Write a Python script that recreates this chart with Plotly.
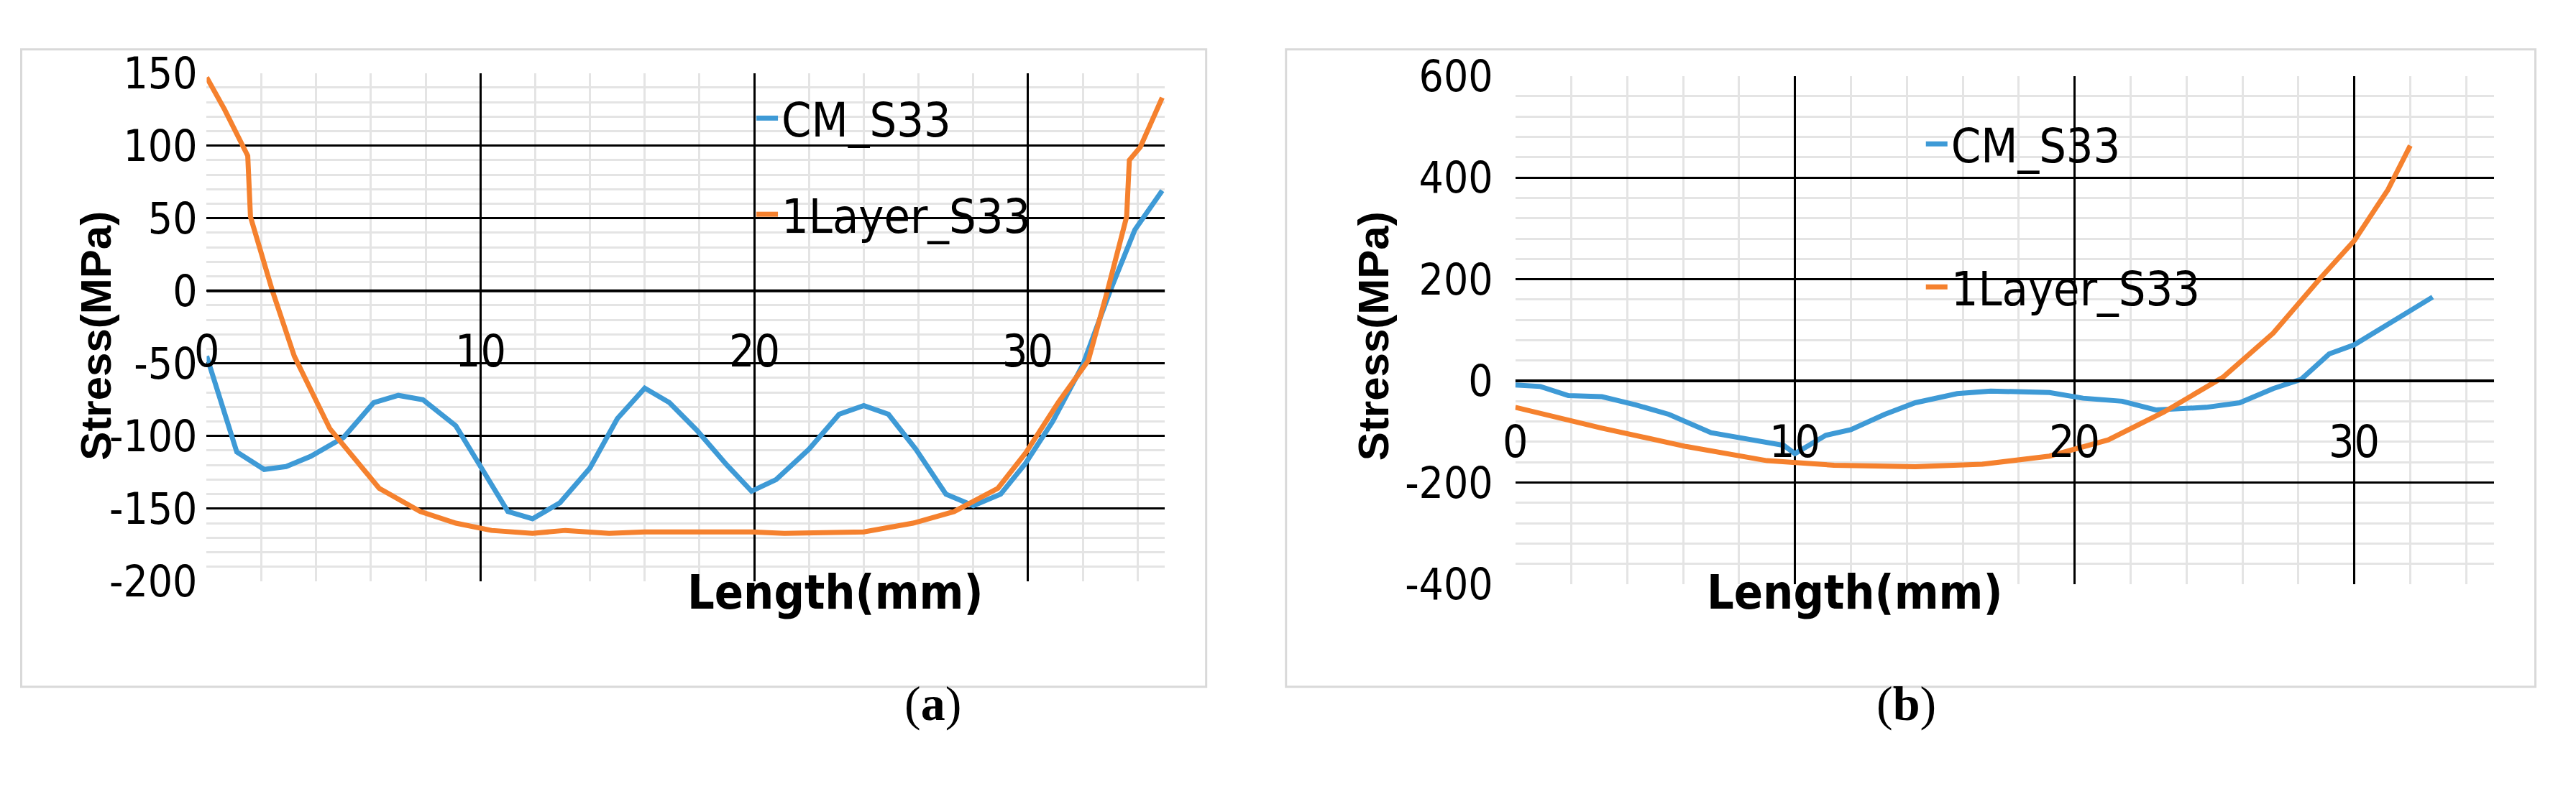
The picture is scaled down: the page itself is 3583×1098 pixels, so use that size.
import plotly.graph_objects as go

# (a) data
a_cm_x = [0, 1.1, 2.1, 2.9, 3.8, 5, 6.1, 7, 7.9, 9.1, 10.1, 11, 11.9, 12.9, 14, 15, 16, 16.9, 17.9, 19, 19.9,
          20.8, 22, 23.1, 24, 24.9, 25.9, 27, 28, 29, 29.9, 30.9, 32, 33, 33.9, 34.9]
a_cm_y = [-45, -111, -123, -121, -114, -101, -77, -72, -75, -93, -124, -152, -157, -146, -122, -88, -67, -77, -96,
          -120, -138, -130, -109, -85, -79, -85, -109, -140, -148, -140, -119, -90, -51, 0, 42, 69]
a_l1_x = [0, 0.65, 1.5, 1.6, 2.4, 3.2, 4.5, 6.3, 7.8, 9.1, 10.4, 11.9, 13.1, 14.7, 16, 17.8, 19.9, 21.1, 24,
          25.8, 27.3, 28.9, 29.9, 31.1, 32.2, 32.9, 33.6, 33.7, 34.1, 34.9]
a_l1_y = [147, 125, 93, 51, 0, -45, -95, -136, -152, -160, -165, -167, -165, -167, -166, -166, -166, -167, -166,
          -160, -152, -136, -112, -77, -48, 0, 51, 90, 99, 133]
a_yticks = [150, 100, 50, 0, -50, -100, -150, -200]

# (b) data
b_cm_x = [0, 0.9, 1.9, 3.1, 4.3, 5.5, 7, 8.4, 9.6, 10, 11.1, 12, 13.2, 14.3, 15.8, 17, 19.1, 20.3, 21.7, 22.9,
          24.7, 25.9, 27.1, 28.1, 29.1, 30, 31.2, 32.8]
b_cm_y = [-8, -11, -29, -31, -47, -66, -102, -116, -127, -143, -107, -96, -66, -43, -25, -20, -23, -34, -40, -57,
          -52, -43, -15, 3, 53, 71, 112, 165]
b_l1_x = [0, 3.1, 6.1, 9, 11.4, 14.3, 16.7, 19.1, 21.2, 23.2, 25.3, 27.1, 28.8, 30, 31.2, 32]
b_l1_y = [-52, -93, -129, -157, -166, -169, -164, -148, -116, -61, 7, 94, 203, 276, 376, 463]
b_yticks = [600, 400, 200, 0, -200, -400]

x_ticks = [0, 10, 20, 30]

BLUE = '#3e9ad6'
ORANGE = '#f5812e'
FONT = 'DejaVu Sans Condensed, Liberation Sans Narrow, Liberation Sans'

fig = go.Figure()
fig.add_trace(go.Scatter(x=a_cm_x, y=a_cm_y, name='CM_S33', mode='lines', line=dict(color=BLUE, width=7),
                         xaxis='x', yaxis='y', legend='legend', legendgroup='a1'))
fig.add_trace(go.Scatter(x=a_l1_x, y=a_l1_y, name='1Layer_S33', mode='lines', line=dict(color=ORANGE, width=7),
                         xaxis='x', yaxis='y', legend='legend', legendgroup='a2'))
fig.add_trace(go.Scatter(x=b_cm_x, y=b_cm_y, name='CM_S33', mode='lines', line=dict(color=BLUE, width=7),
                         xaxis='x2', yaxis='y2', legend='legend2', legendgroup='b1'))
fig.add_trace(go.Scatter(x=b_l1_x, y=b_l1_y, name='1Layer_S33', mode='lines', line=dict(color=ORANGE, width=7),
                         xaxis='x2', yaxis='y2', legend='legend2', legendgroup='b2'))

grid = dict(showgrid=True, gridcolor='black', gridwidth=3, showline=False, zeroline=False, ticks='',
            tickfont=dict(family=FONT, size=60, color='black'))
minor = dict(showgrid=True, gridcolor='#e4e4e4', gridwidth=3)

fig.update_layout(
    width=3583, height=1098, margin=dict(l=0, r=0, t=0, b=0),
    paper_bgcolor='white', plot_bgcolor='white', showlegend=True,
    xaxis=dict(domain=[0.078, 0.450], range=[0, 35], dtick=10, showticklabels=False,
               minor=dict(dtick=2, **minor), **grid),
    yaxis=dict(domain=[0.255, 0.943], range=[-200, 150], tickvals=a_yticks,
               ticktext=[str(v) for v in a_yticks], minor=dict(dtick=10, **minor),
               ticklabelstandoff=12, **grid),
    xaxis2=dict(domain=[0.586, 0.966], range=[0, 35], dtick=10, showticklabels=False, anchor='y2',
                minor=dict(dtick=2, **minor), **grid),
    yaxis2=dict(domain=[0.251, 0.939], range=[-400, 600], tickvals=b_yticks,
                ticktext=[str(v) for v in b_yticks], anchor='x2', minor=dict(dtick=40, **minor),
                ticklabelstandoff=30, **grid),
    legend=dict(x=0.29, y=0.93, yanchor='top', traceorder='grouped', tracegroupgap=45, bgcolor='rgba(0,0,0,0)',
                font=dict(family=FONT, size=66, color='black'), itemwidth=30),
    legend2=dict(x=0.744, y=0.895, yanchor='top', traceorder='grouped', tracegroupgap=110, bgcolor='rgba(0,0,0,0)',
                 font=dict(family=FONT, size=66, color='black'), itemwidth=30),
)

# zero lines
for xa, ya in [('x', 'y'), ('x2', 'y2')]:
    fig.add_shape(type='line', xref=xa, yref=ya, x0=0, x1=35, y0=0, y1=0, line=dict(color='black', width=4))

# tick labels sitting under the zero line (Excel style)
for xa, ya in [('x', 'y'), ('x2', 'y2')]:
    for t in x_ticks:
        fig.add_annotation(x=t, y=0, xref=xa, yref=ya, text=str(t), showarrow=False, yanchor='middle',
                           yshift=-84, font=dict(family=FONT, size=62, color='black'))

# panel frames
for x0, x1 in [(0.006, 0.466), (0.497, 0.982)]:
    fig.add_shape(type='rect', xref='paper', yref='paper', x0=x0, x1=x1, y0=0.112, y1=0.975,
                  line=dict(color='#d9d9d9', width=3), layer='below')

# axis titles
for xc, yc, xt in [(0.264, 0.2, 0.025), (0.776, 0.2, 0.531)]:
    fig.add_annotation(x=xc, y=yc, xref='paper', yref='paper', text='<b>Length(mm)</b>', showarrow=False,
                       font=dict(family=FONT, size=66, color='black'))
    fig.add_annotation(x=xt, y=0.587, xref='paper', yref='paper', text='<b>Stress(MPa)</b>', showarrow=False,
                       textangle=-90, font=dict(family='Liberation Sans', size=60, color='black'))

# captions
for xc, lab in [(0.36, 'a'), (0.75, 'b')]:
    fig.add_annotation(x=xc, y=0.051, xref='paper', yref='paper', text='(<b>%s</b>)' % lab, showarrow=False,
                       font=dict(family='Liberation Serif', size=68, color='black'))

fig.write_html("out.html")
